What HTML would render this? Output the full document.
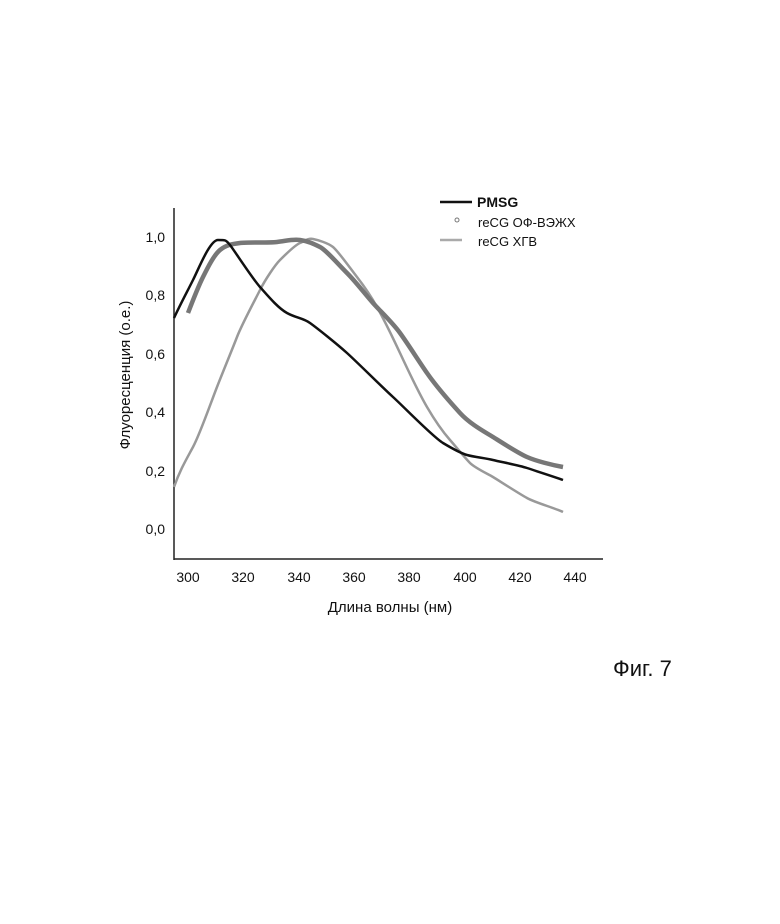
<!DOCTYPE html>
<html><head><meta charset="utf-8"><style>
body{margin:0;background:#fff;}
svg{display:block;font-family:"Liberation Sans",sans-serif;}
</style></head><body>
<svg width="780" height="924" viewBox="0 0 780 924">
<rect width="780" height="924" fill="#fff"/>
<line x1="174" y1="208" x2="174" y2="560" stroke="#222" stroke-width="1.5"/>
<line x1="174" y1="559" x2="603" y2="559" stroke="#222" stroke-width="1.5"/>
<g font-size="14" fill="#111" text-anchor="end">
<text x="165" y="242">1,0</text><text x="165" y="300">0,8</text><text x="165" y="359">0,6</text>
<text x="165" y="417">0,4</text><text x="165" y="476">0,2</text><text x="165" y="534">0,0</text>
</g>
<g font-size="14" fill="#111" text-anchor="middle">
<text x="188" y="582">300</text><text x="243" y="582">320</text><text x="299" y="582">340</text>
<text x="354" y="582">360</text><text x="409" y="582">380</text><text x="465" y="582">400</text>
<text x="520" y="582">420</text><text x="575" y="582">440</text>
</g>
<text x="390" y="612" font-size="15" text-anchor="middle" fill="#111">Длина волны (нм)</text>
<text transform="translate(130,375) rotate(-90)" font-size="15" text-anchor="middle" fill="#111">Флуоресценция (о.е.)</text>
<path d="M174,487 C180,470 186,460 193,447 S210,405 217,387 S232,350 237,337 S255,300 260,290 S275,265 280,260 S295,245 300,243 S308,238 313,239 S328,243 333,247 S350,268 357,277 S372,298 377,307 S393,338 400,353 S420,395 427,407 S443,432 450,440 S465,458 470,463 S488,474 493,477 S518,493 527,498 S555,508 563,512" fill="none" stroke="#999" stroke-width="2.5"/>
<path d="M188,313 C193,300 198,287 203,277 S214,255 220,250 S232,244 240,243 S268,243 277,242 S292,239 300,240 S314,244 320,247 S338,264 347,273 S365,294 373,303 S392,322 400,333 S418,360 427,373 S450,402 460,413 S485,432 493,437 S518,453 527,457 S552,465 563,467" fill="none" stroke="#777" stroke-width="4.5"/>
<path d="M174,318 C180,305 187,292 193,280 S210,240 218,240 S226,240 230,245 S252,278 260,287 S278,308 287,313 S303,318 310,323 S337,344 347,353 S382,387 393,397 S433,437 443,443 S460,453 467,455 S485,458 493,460 S518,465 527,468 S555,477 563,480" fill="none" stroke="#111" stroke-width="2.5"/>
<line x1="440" y1="202" x2="472" y2="202" stroke="#111" stroke-width="2.5"/>
<circle cx="457" cy="220" r="2" fill="none" stroke="#777"/>
<line x1="440" y1="240" x2="462" y2="240" stroke="#aaa" stroke-width="2.5"/>
<text x="477" y="207" font-size="14" font-weight="bold" fill="#111">PMSG</text>
<text x="478" y="227" font-size="13" fill="#111">reCG ОФ-ВЭЖХ</text>
<text x="478" y="246" font-size="13" fill="#111">reCG ХГВ</text>
<text x="613" y="676" font-size="22" fill="#111">Фиг. 7</text>
</svg>
</body></html>
